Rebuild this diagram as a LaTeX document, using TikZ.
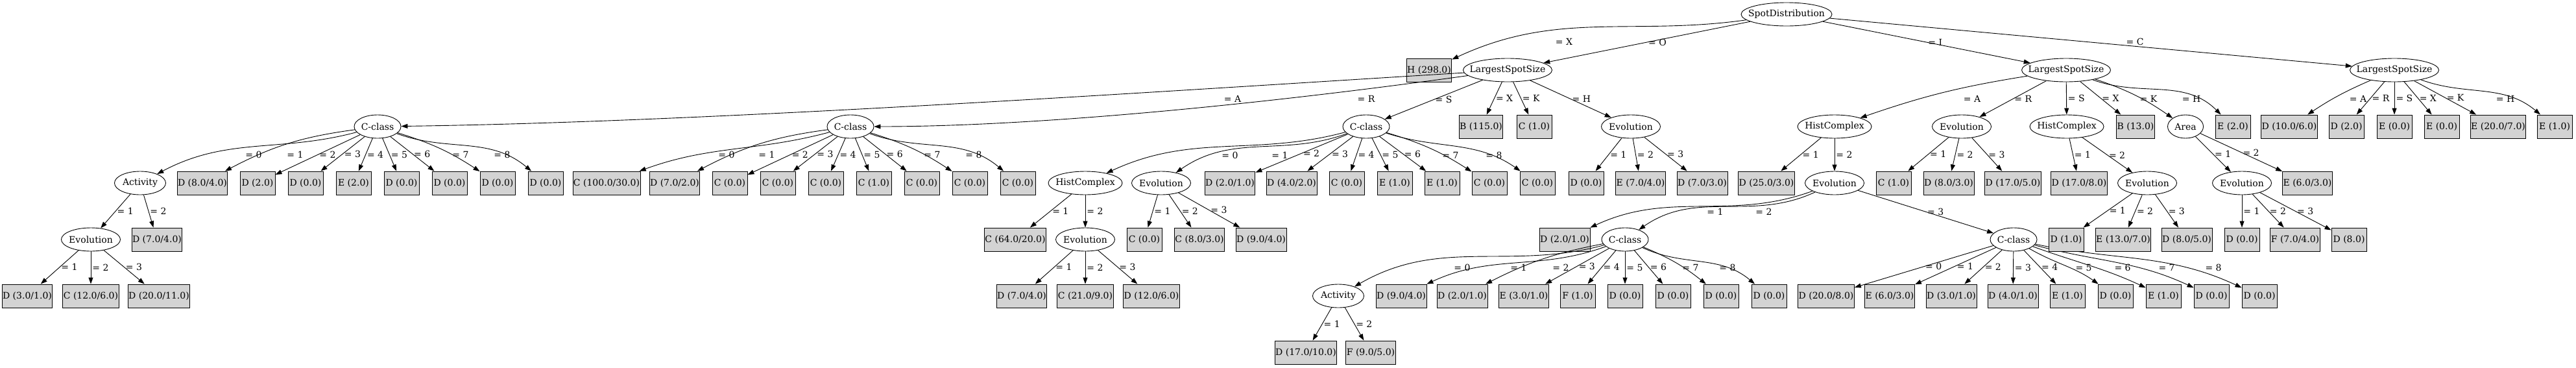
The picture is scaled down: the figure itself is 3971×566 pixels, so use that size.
\documentclass[tikz,border=0pt]{standalone}
\usepackage{fontspec}
\setmainfont{DejaVu Serif}
\usetikzlibrary{shapes.geometric, arrows.meta}
\definecolor{cLeaf}{RGB}{211,211,211}
\tikzset{
	split/.style={ellipse, draw=black, line width=0.9pt, inner sep=0pt, minimum height=36pt, minimum width=#1},
	leaf/.style={rectangle, draw=black, line width=0.9pt, fill=cLeaf, inner xsep=1pt, inner ysep=0pt, minimum width=54pt, minimum height=36pt},
	branch/.style={-{Triangle[length=10pt, width=7pt]}, line width=0.9pt},
	lbl/.style={midway, anchor=west, inner sep=2pt},
	elbl/.style={anchor=center, inner sep=2pt},
}
\newcommand{\nm}[1]{\makebox[0pt]{#1}}

\begin{document}
\begin{tikzpicture}[x=1pt, y=1pt, font=\fontsize{14}{16}\selectfont]
\useasboundingbox (0,0) rectangle (3971,-566);
% root
\node[split=140pt] (sd) at (2754,-22) {\nm{SpotDistribution}};
\node[leaf] (hX) at (2203,-108) {H (298.0)};
\node[split=137pt] (lsO) at (2324,-108) {\nm{LargestSpotSize}};
\node[split=137pt] (lsI) at (3185,-108) {\nm{LargestSpotSize}};
\node[split=137pt] (lsC) at (3691,-108) {\nm{LargestSpotSize}};
\draw[branch] (sd) to[out=188, in=25] (hX); \node[elbl] at (2411,-64) {= X};
\draw[branch] (sd) -- node[lbl] {= O} (lsO);
\draw[branch] (sd) -- node[lbl] {= I} (lsI);
\draw[branch] (sd) -- (lsC); \node[elbl] at (3291,-64) {= C};
% SpotDistribution = O
\node[split=72pt] (cA) at (582,-195) {\nm{C-class}};
\node[split=72pt] (cR) at (1311,-195) {\nm{C-class}};
\node[split=72pt] (cS) at (2106,-195) {\nm{C-class}};
\node[leaf] (oX) at (2283,-195) {B (115.0)};
\node[leaf] (oK) at (2365,-195) {C (1.0)};
\node[split=91pt] (eH) at (2514,-195) {\nm{Evolution}};
\draw[branch] (lsO) .. controls (1800,-140) and (1100,-188) .. (cA); \node[elbl] at (1900,-152) {= A};
\draw[branch] (lsO) .. controls (1950,-160) and (1600,-195) .. (cR); \node[elbl] at (2106,-152) {= R};
\draw[branch] (lsO) -- node[lbl] {= S} (cS);
\draw[branch] (lsO) -- node[lbl] {= X} (oX);
\draw[branch] (lsO) -- node[lbl] {= K} (oK);
\draw[branch] (lsO) -- node[lbl] {= H} (eH);
% O / A
\node[split=79pt] (aA) at (216,-282) {\nm{Activity}};
\node[leaf] (a1) at (312,-282) {D (8.0/4.0)};
\node[leaf] (a2) at (397,-282) {D (2.0)};
\node[leaf] (a3) at (471,-282) {D (0.0)};
\node[leaf] (a4) at (545,-282) {E (2.0)};
\node[leaf] (a5) at (619,-282) {D (0.0)};
\node[leaf] (a6) at (693,-282) {D (0.0)};
\node[leaf] (a7) at (767,-282) {D (0.0)};
\node[leaf] (a8) at (841,-282) {D (0.0)};
\draw[branch] (cA) to[out=195, in=28] (aA); \node[elbl] at (391,-238) {= 0};
\draw[branch] (cA) to[bend right=10] (a1); \node[elbl] at (455,-238) {= 1};
\draw[branch] (cA) -- node[lbl] {= 2} (a2);
\draw[branch] (cA) -- node[lbl] {= 3} (a3);
\draw[branch] (cA) -- node[lbl] {= 4} (a4);
\draw[branch] (cA) -- node[lbl] {= 5} (a5);
\draw[branch] (cA) -- node[lbl] {= 6} (a6);
\draw[branch] (cA) to[bend left=8] (a7); \node[elbl] at (710,-238) {= 7};
\draw[branch] (cA) to[out=-20, in=140] (a8); \node[elbl] at (774,-238) {= 8};
\node[split=91pt] (eA) at (140,-369) {\nm{Evolution}};
\node[leaf] (aA2) at (242,-369) {D (7.0/4.0)};
\draw[branch] (aA) -- node[lbl] {= 1} (eA);
\draw[branch] (aA) -- node[lbl] {= 2} (aA2);
\node[leaf] (eA1) at (42,-456) {D (3.0/1.0)};
\node[leaf] (eA2) at (140,-456) {C (12.0/6.0)};
\node[leaf] (eA3) at (245,-456) {D (20.0/11.0)};
\draw[branch] (eA) -- node[lbl] {= 1} (eA1);
\draw[branch] (eA) -- node[lbl] {= 2} (eA2);
\draw[branch] (eA) -- node[lbl] {= 3} (eA3);
% O / R
\node[leaf] (r0) at (935,-282) {C (100.0/30.0)};
\node[leaf] (r1) at (1040,-282) {D (7.0/2.0)};
\node[leaf] (r2) at (1125,-282) {C (0.0)};
\node[leaf] (r3) at (1199,-282) {C (0.0)};
\node[leaf] (r4) at (1273,-282) {C (0.0)};
\node[leaf] (r5) at (1347,-282) {C (1.0)};
\node[leaf] (r6) at (1421,-282) {C (0.0)};
\node[leaf] (r7) at (1495,-282) {C (0.0)};
\node[leaf] (r8) at (1569,-282) {C (0.0)};
\draw[branch] (cR) to[out=195, in=20] (r0); \node[elbl] at (1120,-238) {= 0};
\draw[branch] (cR) to[bend right=10] (r1); \node[elbl] at (1182,-238) {= 1};
\draw[branch] (cR) -- node[lbl] {= 2} (r2);
\draw[branch] (cR) -- node[lbl] {= 3} (r3);
\draw[branch] (cR) -- node[lbl] {= 4} (r4);
\draw[branch] (cR) -- node[lbl] {= 5} (r5);
\draw[branch] (cR) -- node[lbl] {= 6} (r6);
\draw[branch] (cR) to[bend left=8] (r7); \node[elbl] at (1437,-238) {= 7};
\draw[branch] (cR) to[out=-20, in=140] (r8); \node[elbl] at (1501,-238) {= 8};
% O / S
\node[split=114pt] (hS) at (1673,-282) {\nm{HistComplex}};
\node[split=91pt] (eS) at (1790,-282) {\nm{Evolution}};
\node[leaf] (s2) at (1896,-282) {D (2.0/1.0)};
\node[leaf] (s3) at (1991,-282) {D (4.0/2.0)};
\node[leaf] (s4) at (2076,-282) {C (0.0)};
\node[leaf] (s5) at (2150,-282) {E (1.0)};
\node[leaf] (s6) at (2223,-282) {E (1.0)};
\node[leaf] (s7) at (2296,-282) {C (0.0)};
\node[leaf] (s8) at (2370,-282) {C (0.0)};
\draw[branch] (cS) to[out=195, in=25] (hS); \node[elbl] at (1896,-239) {= 0};
\draw[branch] (cS) to[out=200, in=35] (eS); \node[elbl] at (1973,-239) {= 1};
\draw[branch] (cS) -- node[lbl] {= 2} (s2);
\draw[branch] (cS) -- node[lbl] {= 3} (s3);
\draw[branch] (cS) -- node[lbl] {= 4} (s4);
\draw[branch] (cS) -- node[lbl] {= 5} (s5);
\draw[branch] (cS) -- node[lbl] {= 6} (s6);
\draw[branch] (cS) to[bend left=8] (s7); \node[elbl] at (2236,-239) {= 7};
\draw[branch] (cS) to[out=-18, in=145] (s8); \node[elbl] at (2303,-239) {= 8};
\node[leaf] (hS1) at (1565,-369) {C (64.0/20.0)};
\node[split=91pt] (eS2) at (1673,-369) {\nm{Evolution}};
\draw[branch] (hS) -- node[lbl] {= 1} (hS1);
\draw[branch] (hS) -- node[lbl] {= 2} (eS2);
\node[leaf] (eS21) at (1575,-456) {D (7.0/4.0)};
\node[leaf] (eS22) at (1673,-456) {C (21.0/9.0)};
\node[leaf] (eS23) at (1775,-456) {D (12.0/6.0)};
\draw[branch] (eS2) -- node[lbl] {= 1} (eS21);
\draw[branch] (eS2) -- node[lbl] {= 2} (eS22);
\draw[branch] (eS2) -- node[lbl] {= 3} (eS23);
\node[leaf] (eS1) at (1764,-369) {C (0.0)};
\node[leaf] (eS2b) at (1849,-369) {C (8.0/3.0)};
\node[leaf] (eS3) at (1944,-369) {D (9.0/4.0)};
\draw[branch] (eS) -- node[lbl] {= 1} (eS1);
\draw[branch] (eS) -- node[lbl] {= 2} (eS2b);
\draw[branch] (eS) -- node[lbl] {= 3} (eS3);
% O / H
\node[leaf] (eH1) at (2445,-282) {D (0.0)};
\node[leaf] (eH2) at (2529,-282) {E (7.0/4.0)};
\node[leaf] (eH3) at (2624,-282) {D (7.0/3.0)};
\draw[branch] (eH) -- node[lbl] {= 1} (eH1);
\draw[branch] (eH) -- node[lbl] {= 2} (eH2);
\draw[branch] (eH) -- node[lbl] {= 3} (eH3);
% SpotDistribution = I
\node[split=114pt] (hI) at (2828,-195) {\nm{HistComplex}};
\node[split=91pt] (eR) at (3024,-195) {\nm{Evolution}};
\node[split=114pt] (hIS) at (3186,-195) {\nm{HistComplex}};
\node[leaf] (iX) at (3292,-195) {B (13.0)};
\node[split=55pt] (ar) at (3369,-195) {\nm{Area}};
\node[leaf] (iH) at (3442,-195) {E (2.0)};
\draw[branch] (lsI) to[bend right=5] (hI); \node[elbl] at (3040,-152) {= A};
\draw[branch] (lsI) -- node[lbl] {= R} (eR);
\draw[branch] (lsI) -- node[lbl] {= S} (hIS);
\draw[branch] (lsI) -- node[lbl] {= X} (iX);
\draw[branch] (lsI) to[bend left=8] (ar); \node[elbl] at (3312,-152) {= K};
\draw[branch] (lsI) to[out=-20, in=135] (iH); \node[elbl] at (3378,-152) {= H};
% I / A
\node[leaf] (hI1) at (2723,-282) {D (25.0/3.0)};
\node[split=91pt] (eI) at (2828,-282) {\nm{Evolution}};
\draw[branch] (hI) -- node[lbl] {= 1} (hI1);
\draw[branch] (hI) -- node[lbl] {= 2} (eI);
\node[leaf] (eI1) at (2412,-369) {D (2.0/1.0)};
\node[split=72pt] (cI) at (2505,-369) {\nm{C-class}};
\node[split=72pt] (cI3) at (3104,-369) {\nm{C-class}};
\draw[branch] (eI) to[out=200, in=25] (eI1); \node[elbl] at (2644,-326) {= 1};
\draw[branch] (eI) to[out=205, in=35] (cI); \node[elbl] at (2719,-326) {= 2};
\draw[branch] (eI) -- node[lbl] {= 3} (cI3);
\node[split=79pt] (aI) at (2063,-456) {\nm{Activity}};
\node[leaf] (c1) at (2160,-456) {D (9.0/4.0)};
\node[leaf] (c2) at (2254,-456) {D (2.0/1.0)};
\node[leaf] (c3) at (2349,-456) {E (3.0/1.0)};
\node[leaf] (c4) at (2432,-456) {F (1.0)};
\node[leaf] (c5) at (2505,-456) {D (0.0)};
\node[leaf] (c6) at (2579,-456) {D (0.0)};
\node[leaf] (c7) at (2653,-456) {D (0.0)};
\node[leaf] (c8) at (2727,-456) {D (0.0)};
\draw[branch] (cI) to[out=195, in=30] (aI); \node[elbl] at (2254,-412) {= 0};
\draw[branch] (cI) to[out=200, in=25] (c1); \node[elbl] at (2341,-412) {= 1};
\draw[branch] (cI) to[bend right=8] (c2); \node[elbl] at (2406,-412) {= 2};
\draw[branch] (cI) -- node[lbl] {= 3} (c3);
\draw[branch] (cI) -- node[lbl] {= 4} (c4);
\draw[branch] (cI) -- node[lbl] {= 5} (c5);
\draw[branch] (cI) -- node[lbl] {= 6} (c6);
\draw[branch] (cI) to[bend left=8] (c7); \node[elbl] at (2606,-412) {= 7};
\draw[branch] (cI) to[out=-25, in=140] (c8); \node[elbl] at (2663,-412) {= 8};
\node[leaf] (aI1) at (2013,-543) {D (17.0/10.0)};
\node[leaf] (aI2) at (2113,-543) {F (9.0/5.0)};
\draw[branch] (aI) -- node[lbl] {= 1} (aI1);
\draw[branch] (aI) -- node[lbl] {= 2} (aI2);
\node[leaf] (d0) at (2815,-456) {D (20.0/8.0)};
\node[leaf] (d1) at (2913,-456) {E (6.0/3.0)};
\node[leaf] (d2) at (3008,-456) {D (3.0/1.0)};
\node[leaf] (d3) at (3103,-456) {D (4.0/1.0)};
\node[leaf] (d4) at (3187,-456) {E (1.0)};
\node[leaf] (d5) at (3261,-456) {D (0.0)};
\node[leaf] (d6) at (3335,-456) {E (1.0)};
\node[leaf] (d7) at (3409,-456) {D (0.0)};
\node[leaf] (d8) at (3483,-456) {D (0.0)};
\draw[branch] (cI3) -- node[lbl] {= 0} (d0);
\draw[branch] (cI3) -- node[lbl] {= 1} (d1);
\draw[branch] (cI3) -- node[lbl] {= 2} (d2);
\draw[branch] (cI3) -- node[lbl] {= 3} (d3);
\draw[branch] (cI3) -- node[lbl] {= 4} (d4);
\draw[branch] (cI3) to[out=-30, in=145] (d5); \node[elbl] at (3212,-412) {= 5};
\draw[branch] (cI3) to[out=-20, in=155] (d6); \node[elbl] at (3272,-412) {= 6};
\draw[branch] (cI3) to[out=-15, in=155] (d7); \node[elbl] at (3340,-412) {= 7};
\draw[branch] (cI3) to[out=-12, in=155] (d8); \node[elbl] at (3412,-412) {= 8};
% I / R, S, K
\node[leaf] (eR1) at (2919,-282) {C (1.0)};
\node[leaf] (eR2) at (3004,-282) {D (8.0/3.0)};
\node[leaf] (eR3) at (3103,-282) {D (17.0/5.0)};
\draw[branch] (eR) -- node[lbl] {= 1} (eR1);
\draw[branch] (eR) -- node[lbl] {= 2} (eR2);
\draw[branch] (eR) -- node[lbl] {= 3} (eR3);
\node[leaf] (hIS1) at (3205,-282) {D (17.0/8.0)};
\node[split=91pt] (eIS) at (3310,-282) {\nm{Evolution}};
\draw[branch] (hIS) -- node[lbl] {= 1} (hIS1);
\draw[branch] (hIS) -- node[lbl] {= 2} (eIS);
\node[leaf] (eIS1) at (3185,-369) {D (1.0)};
\node[leaf] (eIS2) at (3273,-369) {E (13.0/7.0)};
\node[leaf] (eIS3) at (3371,-369) {D (8.0/5.0)};
\draw[branch] (eIS) -- node[lbl] {= 1} (eIS1);
\draw[branch] (eIS) -- node[lbl] {= 2} (eIS2);
\draw[branch] (eIS) -- node[lbl] {= 3} (eIS3);
\node[split=91pt] (eAr) at (3456,-282) {\nm{Evolution}};
\node[leaf] (ar2) at (3557,-282) {E (6.0/3.0)};
\draw[branch] (ar) -- node[lbl] {= 1} (eAr);
\draw[branch] (ar) -- node[lbl] {= 2} (ar2);
\node[leaf] (eAr1) at (3456,-369) {D (0.0)};
\node[leaf] (eAr2) at (3538,-369) {F (7.0/4.0)};
\node[leaf] (eAr3) at (3621,-369) {D (8.0)};
\draw[branch] (eAr) -- node[lbl] {= 1} (eAr1);
\draw[branch] (eAr) -- node[lbl] {= 2} (eAr2);
\draw[branch] (eAr) -- node[lbl] {= 3} (eAr3);
% SpotDistribution = C
\node[leaf] (k1) at (3529,-195) {D (10.0/6.0)};
\node[leaf] (k2) at (3617,-195) {D (2.0)};
\node[leaf] (k3) at (3691,-195) {E (0.0)};
\node[leaf] (k4) at (3764,-195) {E (0.0)};
\node[leaf] (k5) at (3851,-195) {E (20.0/7.0)};
\node[leaf] (k6) at (3938,-195) {E (1.0)};
\draw[branch] (lsC) to[bend right=5] (k1); \node[elbl] at (3635,-152) {= A};
\draw[branch] (lsC) -- node[lbl] {= R} (k2);
\draw[branch] (lsC) -- node[lbl] {= S} (k3);
\draw[branch] (lsC) -- node[lbl] {= X} (k4);
\draw[branch] (lsC) -- node[lbl] {= K} (k5);
\draw[branch] (lsC) to[out=-20, in=140] (k6); \node[elbl] at (3862,-152) {= H};
\end{tikzpicture}
\end{document}
